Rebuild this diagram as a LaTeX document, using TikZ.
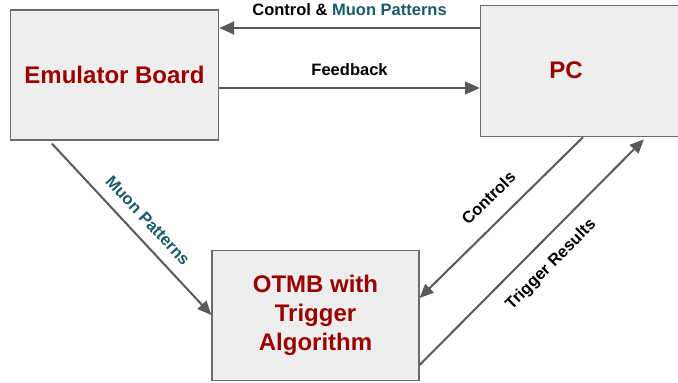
\documentclass[tikz,border=0pt]{standalone}
\usepackage{fontspec}
\setmainfont{Liberation Sans}
\usetikzlibrary{calc,arrows.meta}
\definecolor{boxred}{HTML}{990000}
\definecolor{muonteal}{HTML}{1B5B67}
\definecolor{arrowgray}{HTML}{595959}
\definecolor{boxfill}{HTML}{EEEEEE}
\definecolor{boxline}{HTML}{6B6B6B}

\begin{document}
\begin{tikzpicture}[x=1pt,y=-1pt,
	block/.style={draw=boxline,line width=1.2pt,fill=boxfill,inner sep=0pt,align=center,
		text=boxred,font=\bfseries\fontsize{24}{28.7}\selectfont},
	flow/.style={draw=arrowgray,line width=2pt,-{Triangle[length=14pt,width=12pt]}},
	flowthick/.style={flow,line width=2.7pt,-{Triangle[length=15pt,width=12.5pt]}},
	tag/.style={font=\bfseries\fontsize{16.5}{18}\selectfont,inner sep=2pt}]
	\useasboundingbox (0,0) rectangle (678,383);
	% boxes
	\node[block,minimum width=208pt,minimum height=130pt] (emu) at (114.5,75) {Emulator Board};
	\node[block,minimum width=210pt,minimum height=131pt,anchor=north west] (pc) at (480,5) {};
	\node[text=boxred,font=\bfseries\fontsize{24}{28.7}\selectfont] (pclabel) at (566,70) {PC};
	\node[block,minimum width=207pt,minimum height=130pt] (otmb) at (315.5,315.5) {OTMB with\\Trigger\\Algorithm};
	% top arrows
	\draw[flowthick] (pc.west |- 0,28) -- node[tag,above=9pt] (ctrltag) {Control \& \textcolor{muonteal}{Muon Patterns}} (emu.east |- 0,28);
	\draw[flowthick] (emu.east |- 0,88) -- node[tag,above=9pt] (fbtag) {Feedback} (pc.west |- 0,88);
	% diagonal arrows
	\draw[flow] ($(emu.south west)+(42,3)$) -- node[tag,text=muonteal,sloped,above=9pt,pos=0.52] (muontag) {Muon Patterns} (otmb.west |- 0,315);
	\draw[flow] (pc.south -| 583,0) -- node[tag,sloped,above=14pt,pos=0.48] (ctrlstag) {Controls} (otmb.east |- 0,298);
	\draw[flow,shorten >=3pt] (otmb.east |- 0,365) -- node[tag,sloped,below=12pt,pos=0.51] (trigtag) {Trigger Results} (pc.south -| 646,0);
\end{tikzpicture}
\end{document}
